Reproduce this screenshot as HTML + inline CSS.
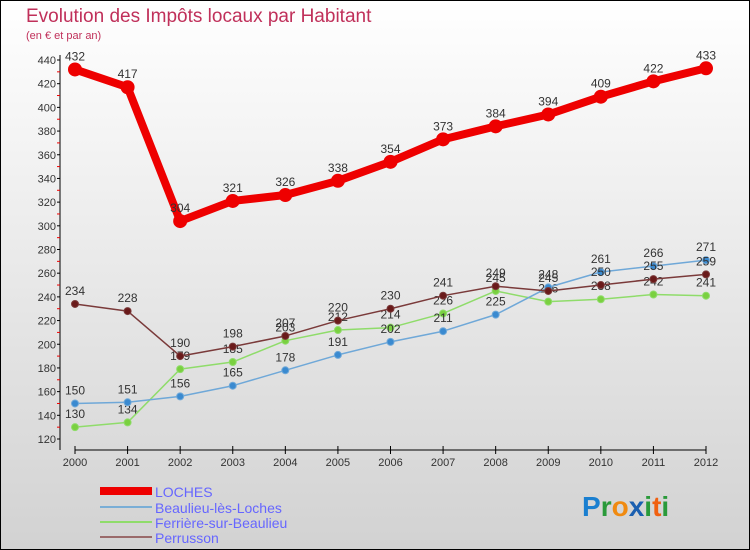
<!DOCTYPE html>
<html><head><meta charset="utf-8"><style>
body{margin:0}
svg{display:block;font-family:"Liberation Sans",sans-serif}
</style></head><body>
<svg id="c" width="750" height="550" viewBox="0 0 750 550">
<defs><linearGradient id="bg" x1="0" y1="0" x2="0" y2="1"><stop offset="0" stop-color="#ffffff"/><stop offset="1" stop-color="#d2d2d2"/></linearGradient></defs>
<rect x="0.5" y="0.5" width="749" height="549" fill="url(#bg)" stroke="#000"/>
<text x="26" y="22" font-size="19" fill="#c0305a">Evolution des Impôts locaux par Habitant</text>
<text x="26" y="39" font-size="11" fill="#c0305a">(en € et par an)</text>
<g id="axes"></g>
<g id="series"></g>
<g>
<rect x="100" y="487" width="52" height="8" fill="#e00"/>
<text x="155" y="497" font-size="14" fill="#6666ff">LOCHES</text>
<line x1="100" y1="507" x2="152" y2="507" stroke="#7aaed6" stroke-width="2"/>
<text x="155" y="513" font-size="14" fill="#6666ff">Beaulieu-lès-Loches</text>
<line x1="100" y1="522" x2="152" y2="522" stroke="#8fdc6a" stroke-width="2"/>
<text x="155" y="528" font-size="14" fill="#6666ff">Ferrière-sur-Beaulieu</text>
<line x1="100" y1="537" x2="152" y2="537" stroke="#9a6a6a" stroke-width="2"/>
<text x="155" y="543" font-size="14" fill="#6666ff">Perrusson</text>
</g>
<g font-size="28" font-weight="bold">
<text x="582" y="516"><tspan fill="#1a7fd0">P</tspan><tspan fill="#2a9a3a">r</tspan><tspan fill="#f08a10">o</tspan><tspan fill="#1a5fb0">x</tspan><tspan fill="#2a9a3a">i</tspan><tspan fill="#f06010">t</tspan><tspan fill="#2a9a3a">i</tspan></text>
</g>
</svg>
<script>
const years=["2000","2001","2002","2003","2004","2005","2006","2007","2008","2009","2010","2011","2012"];
const yTicks=[120,140,160,180,200,220,240,260,280,300,320,340,360,380,400,420,440];
const loches=[432,417,304,321,326,338,354,373,384,394,409,422,433];
const beaulieu=[150,151,156,165,178,191,202,211,225,248,261,266,271];
const ferriere=[130,134,179,185,203,212,214,226,245,236,238,242,241];
const perrusson=[234,228,190,198,207,220,230,241,249,245,250,255,259];
const NS="http://www.w3.org/2000/svg";
function xS(i){return 75+i*(706-75)/(years.length-1);}
function yS(v){return 60+(440-v)*(439-60)/320;}
function mk(t,a,p){const e=document.createElementNS(NS,t);for(const k in a)e.setAttribute(k,a[k]);p.appendChild(e);return e;}
const ax=document.getElementById('axes');
const yl=mk('line',{x1:60,y1:55,x2:60,y2:450,stroke:'#000'},ax);


const xl=mk('line',{x1:75,y1:450,x2:706,y2:450,stroke:'#000'},ax);


yTicks.forEach(v=>{
  mk('line',{x1:57,y1:yS(v),x2:60,y2:yS(v),stroke:'#000'},ax);
  if(v<440) mk('line',{x1:57,y1:yS(v+10),x2:60,y2:yS(v+10),stroke:'#e00'},ax);
  const t=mk('text',{x:56,y:yS(v)+4,'font-size':11,'text-anchor':'end',fill:'#333'},ax);
  t.textContent=v;
  
  
});
years.forEach((y,i)=>{
  mk('line',{x1:xS(i),y1:446,x2:xS(i),y2:454,stroke:'#000'},ax);
  const t=mk('text',{x:xS(i),y:466,'font-size':11,'text-anchor':'middle',fill:'#333'},ax);
  t.textContent=y;
  
  
});
const sg=document.getElementById('series');
function draw(name,vals,color,fill,w,r){
  const g=mk('g',{},sg);
  
  
  const pl=mk('polyline',{points:vals.map((v,i)=>xS(i)+','+yS(v)).join(' '),fill:'none',stroke:color,'stroke-width':w,'stroke-linejoin':'round'},g);
  
  
  vals.forEach((v,i)=>{
    const c=mk('circle',{cx:xS(i),cy:yS(v),r:r,fill:fill,stroke:color,'stroke-width':1},g);
    
    
    const t=mk('text',{x:xS(i),y:yS(v)-9,'font-size':12,'text-anchor':'middle',fill:'#333'},g);
    t.textContent=v;
    
    
  });
}
draw('ferriere',ferriere,'#8fdc6a','#7ad040',1.5,3.5);
draw('beaulieu',beaulieu,'#6fa8d8','#3a8ad0',1.5,3.5);
draw('perrusson',perrusson,'#7a3a3a','#6a1a1a',1.5,3.5);
draw('loches',loches,'#ee0000','#ee0000',8,6.5);
</script>
</body></html>
